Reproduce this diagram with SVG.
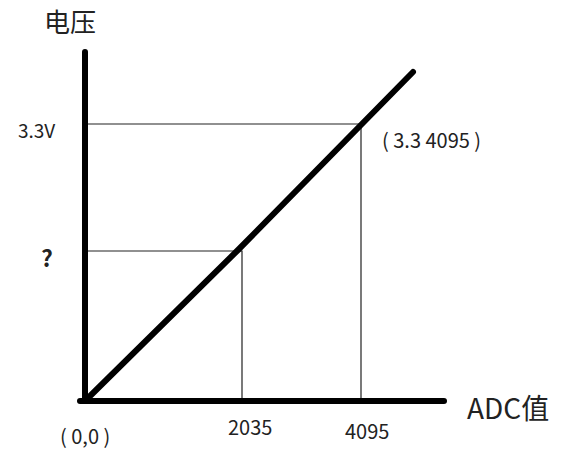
<svg xmlns="http://www.w3.org/2000/svg" width="565" height="449" viewBox="0 0 565 449">
<style>
.axis{stroke:#000;stroke-width:6;stroke-linecap:round;fill:none}
.guide{stroke:#222;stroke-width:1.2;fill:none}
.t{font-family:"Noto Sans CJK SC","Open Sans","Liberation Sans",sans-serif;fill:#222}
</style>
<rect width="565" height="449" fill="#fff"/>
<g id="guides">
<path class="guide" d="M85 124H361V401"/>
<path class="guide" d="M85 251H242V401"/>
</g>
<g id="axes">
<path class="axis" d="M85 52V401"/>
<path class="axis" d="M80 401H444"/>
<path class="axis" d="M87 399L238 250L413 72"/>
</g>
<g id="labels">
<text class="t" x="44" y="32" font-size="26">电压</text>
<text class="t" x="18" y="138" font-size="19">3.3V</text>
<text class="t" x="41" y="267" font-size="23" font-weight="bold">?</text>
<text class="t" x="382" y="148" font-size="20" xml:space="preserve">( 3.3 4095 )</text>
<text class="t" x="60" y="444" font-size="20" xml:space="preserve">( 0,0 )</text>
<text class="t" x="228" y="435" font-size="20">2035</text>
<text class="t" x="345" y="439" font-size="20">4095</text>
<text class="t" x="467" y="419" font-size="28">ADC值</text>
</g>
</svg>
